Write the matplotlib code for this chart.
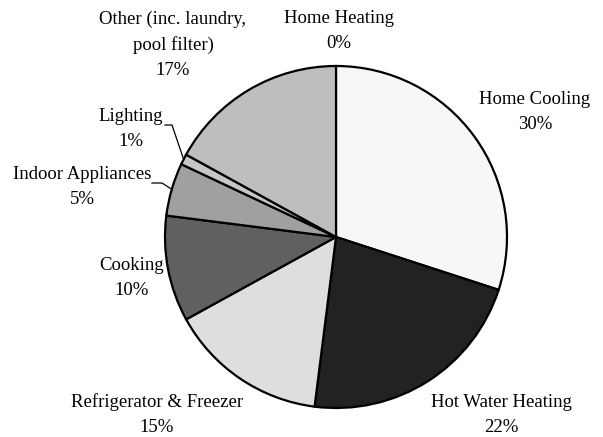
import numpy as np
import matplotlib
matplotlib.use('Agg')
import matplotlib.pyplot as plt

# --- Data ---
categories = ['Home Heating', 'Home Cooling', 'Hot Water Heating', 'Refrigerator & Freezer',
              'Cooking', 'Indoor Appliances', 'Lighting', 'Other (inc. laundry,\npool filter)']
shares = [0, 30, 22, 15, 10, 5, 1, 17]
colors = ['#ffffff', '#f7f7f7', '#222222', '#dedede', '#606060', '#a0a0a0', '#c6c6c6', '#bebebe']

# --- Layout (pixels, from top-left of a 603x437 canvas) ---
W, H = 603, 437
CX, CY, R = 336, 237, 171
label_pos = [(339, 31), (535, 112), (501, 415), (157, 415),
             (132, 278), (82, 187), (131, 129), (173, 45)]
# leader lines: (start of horizontal segment, end of horizontal segment) for small slices
leaders = {6: [(165, 125), (172, 125)], 5: [(152, 183), (162, 183)]}

plt.rcParams['font.family'] = ['Liberation Serif', 'DejaVu Serif']

fig = plt.figure(figsize=(W / 100, H / 100), dpi=100)
ax = fig.add_axes([0, 0, 1, 1])

wedges, _ = ax.pie(shares, colors=colors, startangle=90, counterclock=False,
                   radius=1, center=(0, 0), frame=True,
                   wedgeprops=dict(edgecolor='black', linewidth=1.6))
ax.set_xlim(-CX / R, (W - CX) / R)
ax.set_ylim(-(H - CY) / R, CY / R)
ax.set_aspect('equal')
ax.axis('off')


def px(p):
    return ((p[0] - CX) / R, (CY - p[1]) / R)


for i, (name, val) in enumerate(zip(categories, shares)):
    x, y = px(label_pos[i])
    ax.text(x, y, f'{name}\n{val}%', ha='center', va='center', fontsize=13.5,
            linespacing=1.62, multialignment='center')

for i, pts in leaders.items():
    w = wedges[i]
    mid = np.deg2rad((w.theta1 + w.theta2) / 2)
    edge = (np.cos(mid), np.sin(mid))
    xs = [px(pts[0])[0], px(pts[1])[0], edge[0]]
    ys = [px(pts[0])[1], px(pts[1])[1], edge[1]]
    ax.plot(xs, ys, color='black', linewidth=0.9)

fig.savefig('out.png', dpi=100)
